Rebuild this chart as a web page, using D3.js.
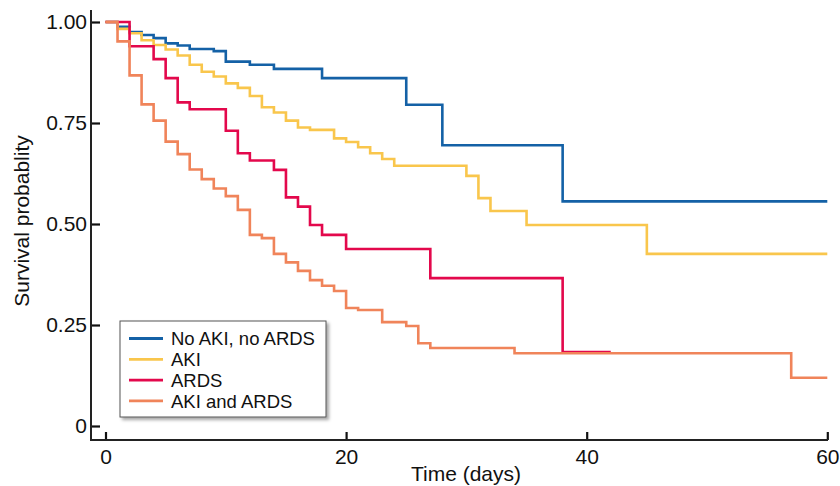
<!DOCTYPE html>
<html>
<head>
<meta charset="utf-8">
<script src="https://cdn.jsdelivr.net/npm/d3@7"></script>
<style>
  body { margin: 0; background: #fff; }
  text { font-family: "Liberation Sans", Arial, sans-serif; fill: #111; }
</style>
</head>
<body>
<div id="chart"></div>
<script>
// Kaplan-Meier steps (day, survival)
const noneTimes = [0, 1, 2, 3, 4, 5, 6, 7, 9, 10, 12, 14, 18, 25, 28, 38, 60];
const noneSurv = [1, 0.988, 0.975, 0.968, 0.960, 0.947, 0.942, 0.933, 0.928, 0.902, 0.894, 0.884, 0.861, 0.795, 0.695, 0.556, 0.556];

const akiTimes = [0, 1, 2, 3, 4, 5, 6, 7, 8, 9, 10, 11, 12, 13, 14, 15, 16, 17, 19, 20, 21, 22, 23, 24, 30, 31, 32, 35, 45, 60];
const akiSurv = [1, 0.983, 0.972, 0.955, 0.943, 0.932, 0.917, 0.894, 0.877, 0.865, 0.848, 0.837, 0.817, 0.789, 0.776, 0.756, 0.739, 0.733, 0.712, 0.703, 0.690, 0.675, 0.661, 0.644, 0.619, 0.564, 0.532, 0.4975, 0.426, 0.426];

const ardsTimes = [0, 2, 4, 5, 6, 7, 10, 11, 12, 14, 15, 16, 17, 18, 20, 27, 38, 42];
const ardsSurv = [1, 0.940, 0.908, 0.861, 0.801, 0.784, 0.731, 0.675, 0.657, 0.634, 0.566, 0.543, 0.4975, 0.473, 0.438, 0.366, 0.183, 0.183];

const bothTimes = [0, 1, 2, 3, 4, 5, 6, 7, 8, 9, 10, 11, 12, 13, 14, 15, 16, 17, 18, 19, 20, 21, 23, 25, 26, 27, 34, 57, 60];
const bothSurv = [1, 0.952, 0.868, 0.796, 0.756, 0.704, 0.673, 0.635, 0.611, 0.588, 0.569, 0.535, 0.473, 0.465, 0.426, 0.405, 0.384, 0.361, 0.347, 0.334, 0.292, 0.287, 0.257, 0.2475, 0.205, 0.193, 0.180, 0.1195, 0.1195];

const groupNames = ["No AKI, no ARDS", "AKI", "ARDS", "AKI and ARDS"];
const groupColors = ["#1461a6", "#f9c64c", "#e3084c", "#f0845a"];

const xTicks = [0, 20, 40, 60];
const yTicks = [0, 0.25, 0.5, 0.75, 1];
const yTickLabels = ["0", "0.25", "0.50", "0.75", "1.00"];

const width = 840, height = 486;

const groups = [
    [noneTimes, noneSurv],
    [akiTimes, akiSurv],
    [ardsTimes, ardsSurv],
    [bothTimes, bothSurv]
].map((g, i) => ({
    name: groupNames[i],
    color: groupColors[i],
    values: g[0].map((t, j) => ({ t: t, s: g[1][j] }))
}));

let x = d3.scaleLinear().domain([0, 60]).range([105.5, 827.3]);
let y = d3.scaleLinear().domain([0, 1]).range([426, 22]);

var svg = d3.select("#chart").append("svg")
    .attr("width", width)
    .attr("height", height);

var defs = svg.append("defs");
var shadow = defs.append("filter").attr("id", "shadow")
    .attr("x", "-10%").attr("y", "-10%").attr("width", "130%").attr("height", "130%");
shadow.append("feDropShadow")
    .attr("dx", 2.5).attr("dy", 2.5)
    .attr("stdDeviation", 1.8)
    .attr("flood-color", "#000")
    .attr("flood-opacity", 0.35);

let line = d3.line()
    .x(d => x(d.t))
    .y(d => y(d.s))
    .curve(d3.curveStepAfter);

svg.append("g")
    .selectAll("path")
    .data(groups)
    .join("path")
    .attr("fill", "none")
    .attr("stroke", d => d.color)
    .attr("stroke-width", 2.6)
    .attr("d", d => line(d.values));

// axes (ticks point inward, spine drawn by hand so it can overshoot the data range)
var yAxis = svg.append("g")
    .attr("transform", "translate(91,0)")
    .call(d3.axisLeft(y)
        .tickValues(yTicks)
        .tickFormat((d, i) => yTickLabels[i])
        .tickSize(-9)
        .tickPadding(4));

var xAxis = svg.append("g")
    .attr("transform", "translate(0,440)")
    .call(d3.axisBottom(x)
        .tickValues(xTicks)
        .tickSize(-8)
        .tickPadding(6));

[yAxis, xAxis].forEach(a => {
    a.select(".domain").remove();
    a.selectAll(".tick line").attr("stroke", "#111").attr("stroke-width", 2.2);
    a.selectAll(".tick text")
        .attr("fill", "#111")
        .style("font-size", "21px")
        .style("font-family", "'Liberation Sans', Arial, sans-serif");
});
xAxis.selectAll(".tick text").attr("dy", "0.85em");

svg.append("line")
    .attr("x1", 91).attr("x2", 91)
    .attr("y1", 10).attr("y2", 441)
    .attr("stroke", "#222").attr("stroke-width", 2);
svg.append("line")
    .attr("x1", 90).attr("x2", 828)
    .attr("y1", 440).attr("y2", 440)
    .attr("stroke", "#222").attr("stroke-width", 2);

svg.append("text")
    .attr("x", 466)
    .attr("y", 481)
    .attr("text-anchor", "middle")
    .style("font-size", "21px")
    .text("Time (days)");

svg.append("text")
    .attr("transform", "translate(29,221) rotate(-90)")
    .attr("text-anchor", "middle")
    .style("font-size", "21px")
    .text("Survival probablity");

// legend
var legend = svg.append("g").attr("transform", "translate(120,321)");
legend.append("rect")
    .attr("width", 206)
    .attr("height", 96)
    .attr("fill", "#fff")
    .attr("stroke", "#555")
    .attr("stroke-width", 1)
    .attr("filter", "url(#shadow)");

var item = legend.selectAll("g.item")
    .data(groups)
    .join("g")
    .attr("class", "item")
    .attr("transform", (d, i) => `translate(0,${17.5 + i * 20.8})`);

item.append("line")
    .attr("x1", 9).attr("x2", 43)
    .attr("stroke", d => d.color)
    .attr("stroke-width", 2.8);

item.append("text")
    .attr("x", 51)
    .attr("dy", "0.36em")
    .style("font-size", "18.5px")
    .text(d => d.name);
</script>
</body>
</html>
